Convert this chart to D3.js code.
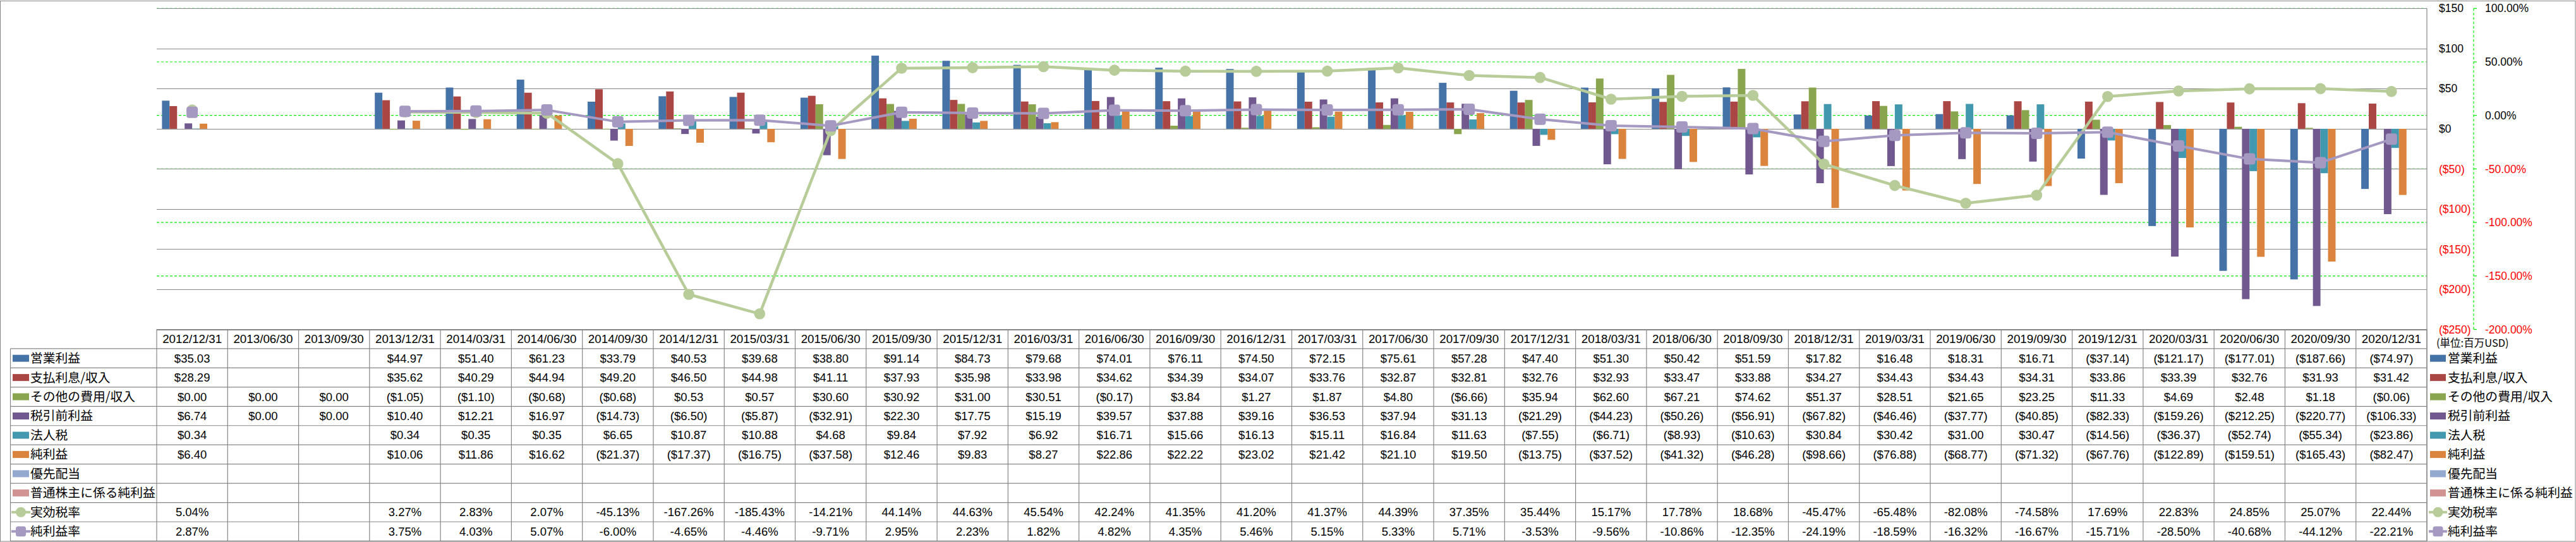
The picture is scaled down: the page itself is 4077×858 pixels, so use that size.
<!DOCTYPE html>
<html><head><meta charset="utf-8">
<script src="https://cdn.jsdelivr.net/npm/d3@7"></script>
<style>
html,body{margin:0;padding:0;background:#fff;}
svg{display:block;}
text{font-family:"Liberation Sans",Arial,"Noto Sans CJK JP",sans-serif;}
.jp{font-family:"Noto Sans CJK JP","Liberation Sans",sans-serif;}
</style></head><body>
<svg id="chart" width="4077" height="858"></svg>
<script>
const dates = ["2012/12/31","2013/06/30","2013/09/30","2013/12/31","2014/03/31","2014/06/30","2014/09/30","2014/12/31",
"2015/03/31","2015/06/30","2015/09/30","2015/12/31","2016/03/31","2016/06/30","2016/09/30","2016/12/31",
"2017/03/31","2017/06/30","2017/09/30","2017/12/31","2018/03/31","2018/06/30","2018/09/30","2018/12/31",
"2019/03/31","2019/06/30","2019/09/30","2019/12/31","2020/03/31","2020/06/30","2020/09/30","2020/12/31"];
const operatingIncome = [35.03,null,null,44.97,51.40,61.23,33.79,40.53,39.68,38.80,91.14,84.73,79.68,74.01,76.11,74.50,72.15,75.61,57.28,47.40,51.30,50.42,51.59,17.82,16.48,18.31,16.71,-37.14,-121.17,-177.01,-187.66,-74.97];
const interestIncome = [28.29,null,null,35.62,40.29,44.94,49.20,46.50,44.98,41.11,37.93,35.98,33.98,34.62,34.39,34.07,33.76,32.87,32.81,32.76,32.93,33.47,33.88,34.27,34.43,34.43,34.31,33.86,33.39,32.76,31.93,31.42];
const otherIncome = [0.00,0.00,0.00,-1.05,-1.10,-0.68,-0.68,0.53,0.57,30.60,30.92,31.00,30.51,-0.17,3.84,1.27,1.87,4.80,-6.66,35.94,62.60,67.21,74.62,51.37,28.51,21.65,23.25,11.33,4.69,2.48,1.18,-0.06];
const pretaxIncome = [6.74,0.00,0.00,10.40,12.21,16.97,-14.73,-6.50,-5.87,-32.91,22.30,17.75,15.19,39.57,37.88,39.16,36.53,37.94,31.13,-21.29,-44.23,-50.26,-56.91,-67.82,-46.46,-37.77,-40.85,-82.33,-159.26,-212.25,-220.77,-106.33];
const incomeTax = [0.34,null,null,0.34,0.35,0.35,6.65,10.87,10.88,4.68,9.84,7.92,6.92,16.71,15.66,16.13,15.11,16.84,11.63,-7.55,-6.71,-8.93,-10.63,30.84,30.42,31.00,30.47,-14.56,-36.37,-52.74,-55.34,-23.86];
const netIncome = [6.40,null,null,10.06,11.86,16.62,-21.37,-17.37,-16.75,-37.58,12.46,9.83,8.27,22.86,22.22,23.02,21.42,21.10,19.50,-13.75,-37.52,-41.32,-46.28,-98.66,-76.88,-68.77,-71.32,-67.76,-122.89,-159.51,-165.43,-82.47];
const preferredDividends = [];
const netIncomeCommon = [];
const effectiveTaxRate = [5.04,null,null,3.27,2.83,2.07,-45.13,-167.26,-185.43,-14.21,44.14,44.63,45.54,42.24,41.35,41.20,41.37,44.39,37.35,35.44,15.17,17.78,18.68,-45.47,-65.48,-82.08,-74.58,17.69,22.83,24.85,25.07,22.44];
const netMargin = [2.87,null,null,3.75,4.03,5.07,-6.00,-4.65,-4.46,-9.71,2.95,2.23,1.82,4.82,4.35,5.46,5.15,5.33,5.71,-3.53,-9.56,-10.86,-12.35,-24.19,-18.59,-16.32,-16.67,-15.71,-28.50,-40.68,-44.12,-22.21];

const barNames = ["営業利益","支払利息/収入","その他の費用/収入","税引前利益","法人税","純利益","優先配当","普通株主に係る純利益"];
const barValues = [operatingIncome,interestIncome,otherIncome,pretaxIncome,incomeTax,netIncome,preferredDividends,netIncomeCommon];
const barColors = ["#4572A7","#AA4643","#89A54E","#71588F","#4198AF","#DB843D","#93A9CF","#D19392"];
const lineNames = ["実効税率","純利益率"];
const lineValues = [effectiveTaxRate,netMargin];
const lineColors = ["#B7CC98","#A599C1"];
const dollarTicks = [150,100,50,0,-50,-100,-150,-200,-250];
const pctTicks = [100,50,0,-50,-100,-150,-200];
const unitLabel = "(単位:百万USD)";

const svg = d3.select("#chart");
const W = 4077, H = 858;
const plotL = 248, plotR = 3841, plotT = 13.3, plotB = 521.5;
const tableL = 16.5, rowH = 30.45, tableTop = plotB;
const gray = "#868686";

svg.append("rect").attr("width",W).attr("height",H).attr("fill","#fff");
svg.append("rect").attr("x",0.5).attr("y",1.5).attr("width",W-1.5).attr("height",H-2.5)
  .attr("fill","none").attr("stroke",gray);

const x = d3.scaleBand().domain(dates).range([plotL,plotR]).padding(0);
const xs = d3.scaleBand().domain(d3.range(barNames.length)).range([0,x.bandwidth()]).paddingInner(0).paddingOuter(0.7);
const y = d3.scaleLinear().domain([-250,150]).range([plotB,plotT]);
const y2 = d3.scaleLinear().domain([-200,100]).range([plotB,plotT]);

// secondary gridlines (green dashed)
svg.append("g").selectAll("line").data(pctTicks).join("line")
  .attr("x1",plotL).attr("x2",plotR).attr("y1",d=>y2(d)).attr("y2",d=>y2(d))
  .attr("stroke","#00EE00").attr("stroke-width",1.2).attr("stroke-dasharray","4,3");
// primary gridlines
svg.append("g").selectAll("line").data(dollarTicks).join("line")
  .attr("x1",plotL).attr("x2",plotR).attr("y1",d=>Math.round(y(d))+0.5).attr("y2",d=>Math.round(y(d))+0.5)
  .attr("stroke",gray).attr("stroke-width",1.2);
svg.append("line").attr("x1",plotR).attr("x2",plotR).attr("y1",plotT).attr("y2",tableTop+rowH*11)
  .attr("stroke",gray).attr("stroke-width",1.2);

// bars
barValues.forEach((vals,si)=>{
  svg.append("g").selectAll("rect").data(dates.map((d,i)=>({d,v:vals[i]})).filter(o=>o.v!=null)).join("rect")
    .attr("x",o=>x(o.d)+xs(si)).attr("width",xs.bandwidth())
    .attr("y",o=>y(Math.max(0,o.v))).attr("height",o=>Math.abs(y(o.v)-y(0)))
    .attr("fill",barColors[si]);
});

// lines
const cx = d=>x(d)+x.bandwidth()/2;
lineValues.forEach((vals,li)=>{
  const pts = dates.map((d,i)=>({d,v:vals[i]}));
  const line = d3.line().defined(o=>o.v!=null).x(o=>cx(o.d)).y(o=>y2(o.v));
  svg.append("path").attr("d",line(pts)).attr("fill","none").attr("stroke",lineColors[li])
    .attr("stroke-width",li===0?4.5:4).attr("stroke-linejoin","round");
  const m = pts.filter(o=>o.v!=null);
  if(li===0){
    svg.append("g").selectAll("circle").data(m).join("circle")
      .attr("cx",o=>cx(o.d)).attr("cy",o=>y2(o.v)).attr("r",8.8).attr("fill",lineColors[li]);
  } else {
    svg.append("g").selectAll("rect").data(m).join("rect")
      .attr("x",o=>cx(o.d)-9).attr("y",o=>y2(o.v)-9).attr("width",18).attr("height",18)
      .attr("rx",4).attr("fill",lineColors[li]);
  }
});

// right axes
const fmtDollarTick = v => v<0 ? "($"+Math.abs(v)+")" : "$"+v;
const fmtPctTick = v => v.toFixed(2)+"%";
svg.append("g").selectAll("text").data(dollarTicks).join("text")
  .attr("x",3860).attr("y",d=>y(d)).attr("dy","0.35em")
  .attr("font-size",17.5).attr("fill",d=>d<0?"#FF0000":"#000").text(fmtDollarTick);
svg.append("line").attr("x1",3915).attr("x2",3915).attr("y1",plotT).attr("y2",plotB)
  .attr("stroke","#00EE00").attr("stroke-width",1.2).attr("stroke-dasharray","4,3");
svg.append("g").selectAll("line").data(pctTicks).join("line")
  .attr("x1",3915).attr("x2",3920).attr("y1",d=>y2(d)).attr("y2",d=>y2(d))
  .attr("stroke","#00EE00").attr("stroke-width",1.2);
svg.append("g").selectAll("text").data(pctTicks).join("text")
  .attr("x",3933).attr("y",d=>y2(d)).attr("dy","0.35em")
  .attr("font-size",17.5).attr("fill",d=>d<0?"#FF0000":"#000").text(fmtPctTick);
svg.append("text").attr("class","jp").attr("x",3856).attr("y",543).attr("dy","0.35em")
  .attr("font-size",16.5).attr("fill","#000").text(unitLabel);

// data table
const allNames = barNames.concat(lineNames);
const allValues = barValues.concat(lineValues);
const fmtMoney = v => v==null ? "" : (v<0 ? "($"+Math.abs(v).toFixed(2)+")" : "$"+v.toFixed(2));
const fmtPct = v => v==null ? "" : v.toFixed(2)+"%";
const tg = svg.append("g");
const tableBottom = tableTop + rowH*11;
tg.append("line").attr("x1",plotL).attr("x2",plotR).attr("y1",tableTop).attr("y2",tableTop).attr("stroke",gray).attr("stroke-width",1.2);
d3.range(1,12).forEach(r=>{
  tg.append("line").attr("x1",tableL).attr("x2",plotR).attr("y1",tableTop+r*rowH).attr("y2",tableTop+r*rowH)
    .attr("stroke",gray).attr("stroke-width",1.2);
});
tg.append("line").attr("x1",tableL).attr("x2",tableL).attr("y1",tableTop+rowH).attr("y2",tableBottom).attr("stroke",gray).attr("stroke-width",1.2);
d3.range(dates.length+1).forEach(i=>{
  const xx = plotL + i*x.bandwidth();
  tg.append("line").attr("x1",xx).attr("x2",xx).attr("y1",tableTop).attr("y2",tableBottom).attr("stroke",gray).attr("stroke-width",1.2);
});
tg.selectAll("text.hd").data(dates).join("text").attr("class","hd")
  .attr("x",d=>cx(d)).attr("y",tableTop+rowH/2).attr("dy","0.35em").attr("text-anchor","middle")
  .attr("font-size",18.8).attr("fill","#000").text(d=>d);

function drawKey(g, k, x0, x1, yc){
  if(k<barNames.length){
    g.append("rect").attr("x",x0).attr("y",yc-5.5).attr("width",x1-x0).attr("height",11).attr("fill",barColors[k]);
  } else {
    const li = k-barNames.length, mx=(x0+x1)/2;
    g.append("line").attr("x1",x0-2).attr("x2",x1+2).attr("y1",yc).attr("y2",yc).attr("stroke",lineColors[li]).attr("stroke-width",4);
    if(li===0) g.append("circle").attr("cx",mx).attr("cy",yc).attr("r",8).attr("fill",lineColors[li]);
    else g.append("rect").attr("x",mx-8).attr("y",yc-8).attr("width",16).attr("height",16).attr("rx",3.5).attr("fill",lineColors[li]);
  }
}

allNames.forEach((name,k)=>{
  const yc = tableTop + rowH*(k+1) + rowH/2;
  drawKey(tg, k, 20, 46, yc);
  tg.append("text").attr("class","jp").attr("x",48).attr("y",yc).attr("dy","0.35em")
    .attr("font-size",19.8).attr("fill","#000").text(name);
  const fmt = k<barNames.length ? fmtMoney : fmtPct;
  tg.append("g").selectAll("text").data(dates.map((d,i)=>({d,v:allValues[k][i]}))).join("text")
    .attr("x",o=>cx(o.d)).attr("y",yc).attr("dy","0.35em").attr("text-anchor","middle")
    .attr("font-size",18.5).attr("fill","#000").text(o=>fmt(o.v));
  drawKey(tg, k, 3846, 3871, yc);
  tg.append("text").attr("class","jp").attr("x",3874).attr("y",yc).attr("dy","0.35em")
    .attr("font-size",19.8).attr("fill","#000").text(name);
});
</script>
</body></html>
